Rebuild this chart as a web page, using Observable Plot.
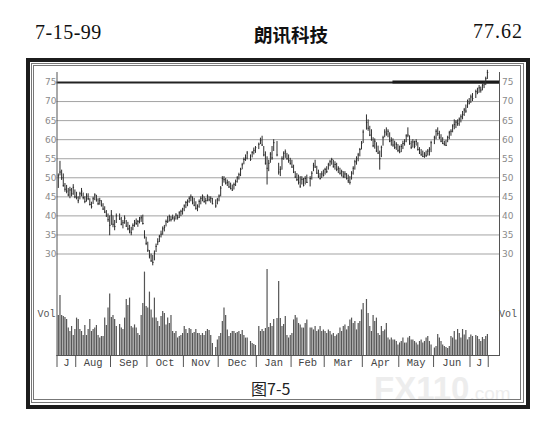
<!DOCTYPE html>
<html>
<head>
<meta charset="utf-8">
<script src="https://cdn.jsdelivr.net/npm/d3@7"></script>
<script src="https://cdn.jsdelivr.net/npm/@observablehq/plot@0.6"></script>
<style>
html, body { margin: 0; padding: 0; background: #fff; }
#page { position: relative; width: 548px; height: 429px; overflow: hidden; background: #fff; }
.abs { position: absolute; white-space: nowrap; line-height: 1; }
.box { position: absolute; box-sizing: border-box; }
#chart svg { position: absolute; left: 0; top: 0; }
</style>
</head>
<body>
<div id="page">
  <div class="abs" style="left:35px;top:22px;font-family:'Liberation Serif';font-size:20px;color:#111;letter-spacing:0.5px">7-15-99</div>
  <div class="abs" style="left:254px;top:25px;font-family:'Noto Sans CJK SC';font-weight:bold;font-size:18.5px;color:#111">朗讯科技</div>
  <div class="abs" style="right:25px;top:21px;font-family:'Liberation Serif';font-size:20px;color:#111;letter-spacing:1px">77.62</div>

  <div class="abs" style="left:374px;top:372px;font-family:'Liberation Sans';font-weight:bold;font-size:33px;color:#ededed">FX110<span style="font-size:19px;font-weight:normal">.com</span></div>

  <div class="box" style="left:26px;top:58px;width:504px;height:351px;border:4px solid #1c1c1c"></div>
  <div class="box" style="left:31px;top:63px;width:493px;height:339.5px;border:1px solid #777"></div>
  <div class="box" style="left:33px;top:65px;width:488px;height:335px;border:1px solid #777"></div>

  <div id="chart"></div>

  <div class="abs" style="left:251px;top:379.5px;font-family:'Noto Sans CJK SC';font-size:16px;color:#222">图7-5</div>
</div>

<script>
// ---- data: one entry per weekday, 1998-07-17 .. 1999-07-15 (null = market holiday) ----
const monthLabels = ["J", "Aug", "Sep", "Oct", "Nov", "Dec", "Jan", "Feb", "Mar", "Apr", "May", "Jun", "J"];
const monthStarts = [0, 11, 32, 54, 76, 97, 120, 141, 161, 184, 206, 227, 249];
const lastDay = 259;
const priceTicks = [30, 35, 40, 45, 50, 55, 60, 65, 70, 75];
const resistanceLevel = 75;
const resistanceFrom = 202;

const highs = [
  51.0,54.3,52.0,51.0,48.5,48.0,47.2,47.5,47.2,48.2,46.8,
  46.2,45.0,46.2,47.2,46.0,45.0,45.8,45.8,44.5,43.6,44.9,45.8,45.4,44.5,44.6,44.0,43.2,42.4,41.4,40.5,40.0,
  41.4,40.0,38.8,40.5,null,40.5,39.6,38.8,40.0,38.8,38.3,37.5,37.0,37.9,38.8,39.2,38.8,39.6,40.0,40.2,36.1,34.4,
  33.1,30.9,30.0,29.6,30.8,32.6,34.0,34.9,36.0,37.1,37.5,38.9,39.8,40.2,39.8,40.2,39.8,40.6,40.2,41.1,41.5,42.0,
  42.9,43.8,44.2,45.0,45.5,45.0,44.6,43.7,42.9,44.2,45.0,45.5,45.0,44.6,45.5,45.0,45.0,44.6,null,44.2,44.6,
  45.5,47.7,50.3,50.3,49.8,49.4,49.0,48.6,48.1,48.6,49.4,50.3,51.2,52.5,53.8,55.2,56.0,56.9,null,56.0,56.9,57.8,58.2,
  null,59.1,60.4,60.9,58.2,56.8,55.5,54.6,56.6,58.2,60.0,null,59.5,53.8,52.9,55.5,56.8,57.3,56.4,56.0,55.1,
  54.6,53.3,51.6,51.1,50.7,50.3,50.3,49.8,50.3,50.7,null,50.3,51.6,53.8,54.6,53.0,52.0,51.1,51.6,52.0,
  52.5,52.9,53.8,54.6,55.1,54.6,54.2,53.8,52.9,52.5,52.0,51.6,51.6,51.1,50.7,50.3,51.6,52.9,54.6,55.5,56.4,57.7,59.5,
  62.5,null,66.5,65.2,63.5,62.6,60.5,60.2,59.2,58.3,57.0,58.3,60.9,62.6,63.1,62.6,61.8,60.5,60.2,59.6,59.2,58.7,
  58.3,58.7,59.6,60.0,61.3,63.1,61.0,59.6,60.0,59.6,60.0,59.2,57.9,57.4,57.0,56.6,57.0,57.4,57.9,59.6,null,
  60.9,62.6,63.1,62.2,61.3,60.5,59.6,59.8,60.9,62.2,62.6,63.9,65.2,65.0,65.2,65.7,66.5,67.4,68.2,69.1,70.4,70.8,
  71.7,72.1,null,73.0,73.5,74.2,73.8,74.6,75.2,76.4,78.2
];
const lows = [
  47.2,50.5,49.3,47.5,46.2,45.8,45.0,44.5,45.0,45.4,44.5,
  44.2,43.2,44.2,45.0,44.2,43.2,43.6,44.0,42.6,41.8,43.0,44.0,43.6,42.7,42.8,42.3,41.4,40.6,39.6,38.3,34.8,
  37.5,36.9,36.1,38.0,null,38.8,37.4,36.6,37.8,37.0,36.1,35.3,34.8,36.1,37.0,37.5,37.0,37.9,38.3,37.6,33.9,32.2,
  30.4,28.7,27.8,26.9,28.2,30.4,32.2,33.0,34.2,34.9,35.8,37.1,38.0,38.4,38.4,38.9,38.4,38.9,38.9,39.3,39.8,40.2,
  41.1,41.9,42.4,43.3,43.7,42.9,42.4,41.5,41.1,42.0,42.9,43.7,43.3,42.9,43.7,43.7,43.3,42.9,null,42.0,42.9,
  43.7,45.0,47.7,48.6,48.1,47.7,47.2,46.8,46.4,46.8,47.7,48.6,49.4,50.3,52.1,53.4,54.3,54.7,null,54.3,55.2,56.0,56.4,
  null,57.4,58.7,58.2,55.5,53.3,48.1,51.6,53.8,54.6,56.9,null,55.5,50.7,50.3,52.0,54.6,55.1,54.6,53.8,53.3,
  52.5,51.1,49.8,49.0,48.1,47.2,48.1,47.6,48.1,48.5,null,47.6,49.4,51.6,52.5,50.9,49.8,49.4,49.8,50.2,
  50.7,51.1,52.0,52.9,53.3,52.5,52.0,51.6,51.1,50.7,50.2,49.8,49.8,49.4,48.5,48.1,49.4,50.7,52.0,53.3,54.2,55.5,57.3,
  59.0,null,62.5,62.2,60.8,59.6,57.9,57.5,56.6,56.1,52.0,55.3,58.3,60.5,60.9,60.5,59.2,58.3,58.0,57.4,57.2,56.6,
  56.3,56.6,57.4,58.3,59.2,60.5,58.5,57.4,57.8,57.6,58.3,57.0,56.1,55.7,55.3,55.1,55.3,55.7,55.7,56.6,null,
  58.7,60.0,60.9,60.0,59.2,58.7,58.3,58.2,59.2,60.0,60.9,61.8,62.6,62.9,63.5,63.5,64.4,65.2,66.1,66.9,68.2,69.1,
  69.5,70.0,null,70.8,71.8,72.2,72.2,72.8,73.4,74.2,75.8
];
const closes = [
  50.5,51.5,50.0,48.0,47.0,46.5,45.5,46.8,45.8,47.5,45.0,
  44.8,44.0,45.8,46.5,44.8,43.8,45.2,44.5,43.0,42.4,44.5,45.5,44.2,43.2,44.0,42.8,41.8,41.0,40.0,39.0,37.5,
  40.2,37.8,37.2,40.0,null,39.2,37.8,38.2,39.4,37.3,36.6,36.0,35.6,37.5,38.3,38.0,38.5,39.2,39.5,38.0,34.5,32.8,
  31.0,29.5,28.2,27.8,30.2,32.0,33.2,34.6,35.2,36.6,37.0,38.5,38.6,39.8,39.0,39.5,39.2,40.2,39.6,40.8,41.2,41.8,
  42.6,43.5,43.8,44.6,45.0,43.4,42.8,42.0,42.5,43.8,44.6,45.2,43.8,44.0,45.2,44.2,44.6,43.2,null,42.6,44.2,
  45.2,47.3,49.8,49.5,48.6,48.8,47.6,47.2,46.8,48.2,49.0,50.0,50.8,52.2,53.4,54.8,55.2,56.5,null,54.8,56.6,57.2,57.9,
  null,58.8,59.8,58.6,56.0,53.8,52.5,53.8,56.2,55.2,59.2,null,56.0,51.5,52.2,55.0,56.4,56.8,55.0,54.5,53.8,
  52.8,51.5,50.2,49.5,48.8,47.8,49.6,48.0,49.8,48.8,null,49.8,51.2,53.2,52.8,51.2,50.4,49.8,51.0,50.6,
  52.2,51.6,53.4,54.2,54.8,53.0,53.5,52.2,52.5,51.2,51.6,50.4,51.0,49.8,49.2,48.8,51.2,52.5,54.2,55.0,56.0,57.4,59.0,
  62.0,null,64.5,63.0,61.2,60.0,58.4,59.6,57.0,56.5,55.0,58.0,60.5,62.0,61.5,62.2,59.6,59.8,58.6,58.0,58.8,57.2,
  56.8,58.2,59.0,59.6,61.0,61.2,59.0,58.0,59.4,58.2,59.5,57.4,56.5,56.0,55.6,56.2,55.8,57.0,57.5,59.2,null,
  60.5,62.2,61.6,60.6,59.6,59.0,58.8,58.5,60.6,61.8,62.2,63.6,64.0,64.6,64.2,65.4,66.0,66.6,67.8,67.5,70.0,69.6,
  71.2,70.8,null,72.6,72.4,73.6,73.0,74.2,74.6,76.0,77.62
];
const volumes = [
  20,30,20,19.5,19,18,13.7,12,14.5,10,13,
  18.7,18,13,12,10,15,10,13,18,12,13,13.7,15,10,8.7,9.5,9.5,18.7,15,23.7,30.7,
  19,20,18,14.5,null,15.5,13.7,13,18.7,28,25,28.7,14.5,13.7,15.3,13.7,11,10,20,26,41.7,24.5,
  23.7,31.7,22.8,18.7,28.7,18.7,17,14.5,19.5,22,21,15.3,18.7,16,20,12,11,12,8.7,9.5,10,11,
  14.5,13,11,13.5,13,11,11.5,13,11,11,10,11,10,12,13,12.5,10,6,null,4,7.8,
  9.5,11,17,23.7,20,12.8,9.5,11,12,12,11,11.5,12,10.5,12.5,10,8.7,8.7,null,7,6,5.5,5,
  null,14.5,12,13,12,13.5,43,14,16,14.5,18,null,18.5,37,18.5,14.5,15.5,19.5,10,8.7,10,
  11,17.8,20,18.7,16,15.3,13.7,13.7,16,17.8,null,13.7,13.7,12.8,14.5,12,12.8,14.5,12,12.8,
  12,11,12.8,12,10.3,11,9.5,10.3,11,13.7,12,14.5,15.3,12.8,14.5,17.8,18.7,16,17,12.8,16,17,22.8,
  26,null,28,21,14.5,12,20,17,18.7,11,10,14.5,12,12.8,16,8.7,7.8,8.7,7.8,7.8,7,5.3,
  6.2,7,8.7,6.2,6.2,8.7,9.5,7.8,7.8,7,6.2,5.3,7,7.8,6.2,7,8.7,9.5,7,5.3,null,
  3.7,4.5,10.5,8.7,7,5.3,4.5,4,3.5,4.5,9.5,8.7,12,7.8,13,11,8.7,13,10.3,12.5,7.8,9,
  10.3,9.5,null,10,9.5,8,7,9,8,9.5,10.5
];

// ---- build table ----
const days = d3.range(highs.length)
  .filter(i => highs[i] != null)
  .map(i => ({i, high: highs[i], low: lows[i], close: closes[i], vol: volumes[i]}));

const monthEdges = [-0.8, ...monthStarts.slice(1).map(s => s - 0.5), lastDay + 0.5];
const monthMarks = monthLabels.map((label, k) => ({label, mid: (monthEdges[k] + monthEdges[k + 1]) / 2}));

const W = 548, H = 380;
const mL = 56.5, mR = 49, mB = 25;
const xOpts = {domain: [-0.8, 266.3], range: [mL, W - mR]};
const baseStyle = {background: "transparent", overflow: "visible", fontFamily: "DejaVu Sans", fontSize: "9px", color: "#333"};

const pricePlot = Plot.plot({
  width: W, height: H,
  marginTop: 72, marginBottom: mB, marginLeft: mL, marginRight: mR,
  x: {...xOpts, axis: null, label: null},
  y: {domain: [30, 75], range: [253.5, 82], axis: null, label: null},
  style: baseStyle,
  marks: [
    Plot.ruleY(priceTicks.filter(v => v !== resistanceLevel), {stroke: "#999", strokeWidth: 0.9}),
    Plot.ruleY([resistanceLevel], {stroke: "#222", strokeWidth: 1.8}),
    Plot.ruleY([resistanceLevel], {x1: resistanceFrom, x2: 266.3, stroke: "#1a1a1a", strokeWidth: 3, dy: -0.6}),
    Plot.frame({anchor: "left", stroke: "#555"}),
    Plot.frame({anchor: "right", stroke: "#555"}),
    Plot.axisY({anchor: "left", ticks: priceTicks, tickSize: 0, tickPadding: 0.5, fill: "#8a8a8a", fontSize: 9, fontFamily: "DejaVu Sans", label: null}),
    Plot.axisY({anchor: "right", ticks: priceTicks, tickSize: 0, tickPadding: 2.5, fill: "#8a8a8a", fontSize: 9, fontFamily: "DejaVu Sans", label: null}),
    Plot.ruleX(days, {x: "i", y1: "low", y2: "high", stroke: "#2e2e2e", strokeWidth: 1}),
    Plot.ruleY(days, {x1: "i", x2: d => d.i + 0.8, y: "close", stroke: "#2e2e2e", strokeWidth: 1})
  ]
});

const volumePlot = Plot.plot({
  width: W, height: H,
  marginTop: 272, marginBottom: mB, marginLeft: mL, marginRight: mR,
  x: {...xOpts, label: null},
  y: {domain: [0, 44], range: [355, 267], axis: null, label: null},
  style: baseStyle,
  marks: [
    Plot.ruleX(days, {x: "i", y1: 0, y2: "vol", stroke: "#555", strokeWidth: 1.2}),
    Plot.ruleY([0], {stroke: "#555"}),
    Plot.axisX({ticks: monthEdges, tickSize: 12, tickFormat: () => "", stroke: "#555", label: null}),
    Plot.text(monthMarks, {x: "mid", text: "label", frameAnchor: "bottom", lineAnchor: "top", dy: 3,
      fontFamily: "Liberation Mono", fontSize: 10.5, fill: "#444"}),
    Plot.text(["Vol"], {frameAnchor: "left", textAnchor: "end", dx: -1.5, fontFamily: "Liberation Mono", fontSize: 10, fill: "#555"}),
    Plot.text(["Vol"], {frameAnchor: "right", textAnchor: "start", dx: -0.5, fontFamily: "Liberation Mono", fontSize: 10, fill: "#555"})
  ]
});

const chart = document.getElementById("chart");
chart.appendChild(volumePlot);
chart.appendChild(pricePlot);
</script>
</body>
</html>
